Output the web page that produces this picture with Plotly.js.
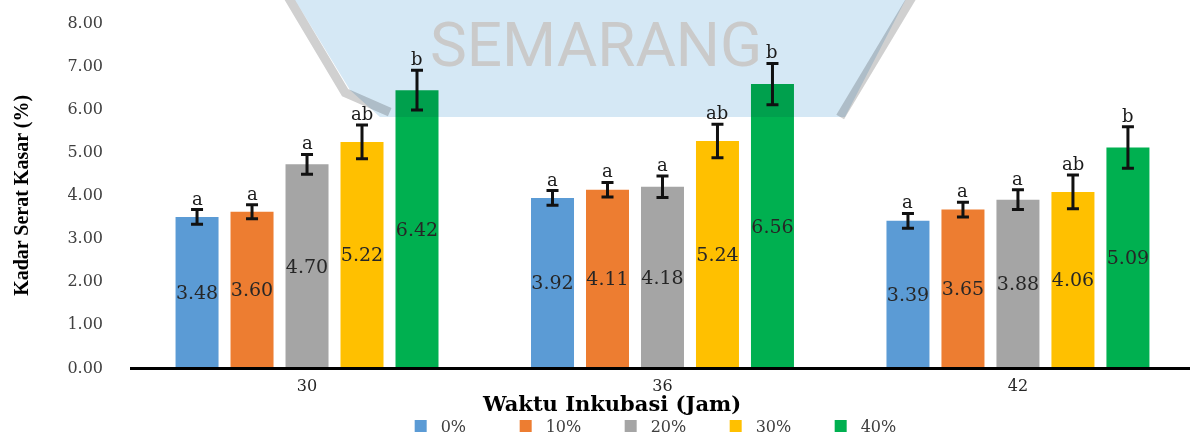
<!DOCTYPE html>
<html>
<head>
<meta charset="utf-8">
<script src="https://cdn.plot.ly/plotly-3.0.1.min.js"></script>
<style>
html,body{margin:0;padding:0;background:#fff;}
#chart{width:1190px;height:438px;}
.layer-above .shapelayer path{mix-blend-mode:multiply;}
</style>
</head>
<body>
<div id="chart"></div>
<script>
// ---- data ----
const categories = ['30', '36', '42'];
const seriesNames = ['0%', '10%', '20%', '30%', '40%'];
const values0  = [3.48, 3.92, 3.39];
const values10 = [3.60, 4.11, 3.65];
const values20 = [4.70, 4.18, 3.88];
const values30 = [5.22, 5.24, 4.06];
const values40 = [6.42, 6.56, 5.09];
const err0  = [0.17, 0.17, 0.17];
const err10 = [0.16, 0.17, 0.17];
const err20 = [0.23, 0.25, 0.23];
const err30 = [0.39, 0.39, 0.39];
const err40 = [0.46, 0.48, 0.48];
const letters0  = ['a', 'a', 'a'];
const letters10 = ['a', 'a', 'a'];
const letters20 = ['a', 'a', 'a'];
const letters30 = ['ab', 'ab', 'ab'];
const letters40 = ['b', 'b', 'b'];
const yTickValues = [0, 1, 2, 3, 4, 5, 6, 7, 8];
const xTitle = 'Waktu Inkubasi (Jam)';
const yTitle = 'Kadar Serat Kasar (%)';
const watermarkText = 'SEMARANG';

// ---- styles ----
const colors = ['#5b9bd5', '#ed7d31', '#a5a5a5', '#ffc000', '#00b050'];
const allValues = [values0, values10, values20, values30, values40];
const allErr = [err0, err10, err20, err30, err40];
const allLetters = [letters0, letters10, letters20, letters30, letters40];
const BARGAP = 0.2265, BARGROUPGAP = 0.218;
const serif = 'DejaVu Serif, serif';

const traces = seriesNames.map((name, j) => ({
  type: 'bar',
  name: name,
  x: categories,
  y: allValues[j],
  marker: {color: colors[j]},
  error_y: {type: 'data', array: allErr[j], visible: true, color: '#111111', thickness: 3, width: 6},
  texttemplate: '%{y:.2f}',
  textposition: 'inside',
  insidetextanchor: 'middle',
  constraintext: 'none',
  textangle: 0,
  insidetextfont: {family: serif, size: 19, color: '#262626'},
  hoverinfo: 'skip'
}));

// letter annotations above the error bars
const slot = (1 - BARGAP) / seriesNames.length;
const annotations = [];
seriesNames.forEach((name, j) => {
  categories.forEach((c, i) => {
    annotations.push({
      x: i + (j - (seriesNames.length - 1) / 2) * slot,
      y: allValues[j][i] + allErr[j][i],
      xref: 'x', yref: 'y',
      text: allLetters[j][i],
      showarrow: false,
      yanchor: 'bottom',
      yshift: -1,
      font: {family: serif, size: 18, color: '#1a1a1a'}
    });
  });
});
// axis titles
annotations.push({
  xref: 'paper', yref: 'paper', x: 0.4538, y: -0.1072,
  xanchor: 'center', yanchor: 'middle', showarrow: false,
  text: '<b>' + xTitle + '</b>',
  font: {family: serif, size: 21, color: '#000000'}
});
annotations.push({
  xref: 'paper', yref: 'paper', x: -0.102, y: 0.4986,
  xanchor: 'center', yanchor: 'middle', showarrow: false, textangle: -90,
  text: '<b>' + yTitle + '</b>',
  font: {family: 'Liberation Serif, serif', size: 20, color: '#000000'}
});
// faint watermark text
annotations.push({
  xref: 'paper', yref: 'paper', x: 0.4396, y: 0.935,
  xanchor: 'center', yanchor: 'middle', showarrow: false,
  text: watermarkText,
  font: {family: 'Liberation Sans Narrow, Roboto, sans-serif', size: 62, color: '#cacaca'}
});

const layout = {
  width: 1190, height: 438,
  margin: {l: 130, r: 0, t: 22, b: 71},
  paper_bgcolor: '#ffffff', plot_bgcolor: 'rgba(0,0,0,0)',
  barmode: 'group', bargap: BARGAP, bargroupgap: BARGROUPGAP,
  showlegend: true,
  legend: {
    orientation: 'h', xref: 'paper', yref: 'container',
    x: 0.5030, xanchor: 'center', y: 0.027, yanchor: 'middle',
    font: {family: serif, size: 16, color: '#404040'}, traceorder: 'normal',
    entrywidth: 60
  },
  xaxis: {
    type: 'category', range: [-0.498, 2.484],
    showline: true, linecolor: '#000000', linewidth: 2.5,
    ticks: '', showgrid: false, zeroline: false,
    tickfont: {family: serif, size: 16, color: '#262626'},
    ticklabelstandoff: 2, fixedrange: true
  },
  yaxis: {
    range: [0, 8], tickvals: yTickValues, tickformat: '.2f',
    showgrid: false, zeroline: false, showline: false, ticks: '',
    tickfont: {family: serif, size: 16, color: '#404040'},
    ticklabelstandoff: 26, fixedrange: true
  },
  shapes: [
    {
      type: 'path', xref: 'paper', yref: 'paper', layer: 'above',
      path: 'M0.1528,1.0783 L0.2075,0.8029 L0.2358,0.7246 L0.6745,0.7246 L0.7340,1.0783 Z',
      fillcolor: '#d5e8f5', line: {width: 0}
    },
    {
      type: 'path', xref: 'paper', yref: 'paper', layer: 'above',
      path: 'M0.1480,1.0783 L0.2030,0.7950 L0.2450,0.7390',
      line: {color: '#d0d0d0', width: 9}
    },
    {
      type: 'path', xref: 'paper', yref: 'paper', layer: 'above',
      path: 'M0.6700,0.7246 L0.7390,1.0783',
      line: {color: '#d0d0d0', width: 9}
    }
  ],
  annotations: annotations
};

Plotly.newPlot('chart', traces, layout, {displayModeBar: false, staticPlot: true});
</script>
</body>
</html>
